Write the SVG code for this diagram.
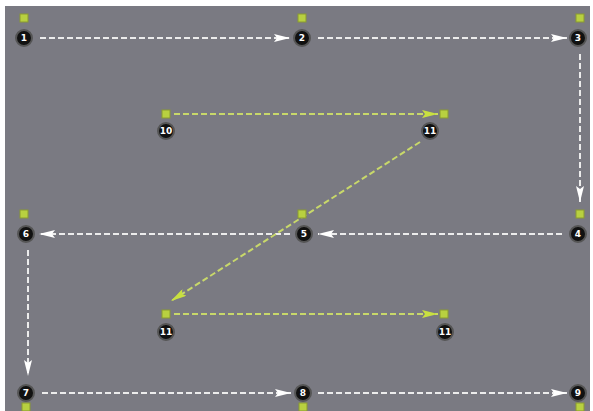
<svg xmlns="http://www.w3.org/2000/svg" width="593" height="411" viewBox="0 0 593 411">
<style>
.w{stroke:#ececec;stroke-width:2;stroke-dasharray:6 3;fill:none}
.y{stroke:#c8d86a;stroke-width:2;stroke-dasharray:6 3;fill:none}
.sq{fill:#b8d040;stroke:#8a9a30;stroke-width:1}
.n circle{fill:#111;stroke:#555;stroke-width:2}
.n text{fill:#fff;font-family:"DejaVu Sans",sans-serif;font-weight:bold;font-size:9px;text-anchor:middle}
</style>
<defs>
<marker id="aw" viewBox="0 0 16 8" refX="16" refY="4" markerWidth="8" markerHeight="4" orient="auto" markerUnits="strokeWidth"><path d="M0,0 L16,4 L0,8 L3,4 z" fill="#ffffff"/></marker>
<marker id="ay" viewBox="0 0 16 8" refX="16" refY="4" markerWidth="8" markerHeight="4" orient="auto" markerUnits="strokeWidth"><path d="M0,0 L16,4 L0,8 L3,4 z" fill="#c8e040"/></marker>
</defs>
<rect width="593" height="411" fill="#ffffff"/>
<rect x="5" y="6" width="585" height="405" fill="#7a7a82"/>
<g id="connectors">
<line class="w" x1="40" y1="38" x2="290" y2="38" marker-end="url(#aw)"/>
<line class="w" x1="318" y1="38" x2="567" y2="38" marker-end="url(#aw)"/>
<line class="w" x1="580" y1="54" x2="580" y2="202" marker-end="url(#aw)"/>
<line class="w" x1="562" y1="234" x2="318" y2="234" marker-end="url(#aw)"/>
<line class="w" x1="290" y1="234" x2="39" y2="234" marker-end="url(#aw)"/>
<line class="w" x1="28" y1="250" x2="28" y2="376" marker-end="url(#aw)"/>
<line class="w" x1="42" y1="393" x2="291" y2="393" marker-end="url(#aw)"/>
<line class="w" x1="318" y1="393" x2="567" y2="393" marker-end="url(#aw)"/>
<line class="y" x1="174" y1="114" x2="438" y2="114" marker-end="url(#ay)"/>
<line class="y" x1="420" y1="142" x2="171" y2="301" marker-end="url(#ay)"/>
<line class="y" x1="174" y1="314" x2="438" y2="314" marker-end="url(#ay)"/>
</g>
<g id="n1" class="n"><rect class="sq" x="20" y="14" width="8" height="8"/><circle cx="24" cy="38" r="8"/><text x="24" y="41">1</text></g>
<g id="n2" class="n"><rect class="sq" x="298" y="14" width="8" height="8"/><circle cx="302" cy="38" r="8"/><text x="302" y="41">2</text></g>
<g id="n3" class="n"><rect class="sq" x="576" y="14" width="8" height="8"/><circle cx="578" cy="38" r="8"/><text x="578" y="41">3</text></g>
<g id="n10" class="n"><rect class="sq" x="162" y="110" width="8" height="8"/><circle cx="166" cy="131" r="8"/><text x="166" y="134">10</text></g>
<g id="n11a" class="n"><rect class="sq" x="440" y="110" width="8" height="8"/><circle cx="430" cy="131" r="8"/><text x="430" y="134">11</text></g>
<g id="n6" class="n"><rect class="sq" x="20" y="210" width="8" height="8"/><circle cx="26" cy="234" r="8"/><text x="26" y="237">6</text></g>
<g id="n5" class="n"><rect class="sq" x="298" y="210" width="8" height="8"/><circle cx="304" cy="234" r="8"/><text x="304" y="237">5</text></g>
<g id="n4" class="n"><rect class="sq" x="576" y="210" width="8" height="8"/><circle cx="578" cy="234" r="8"/><text x="578" y="237">4</text></g>
<g id="n11b" class="n"><rect class="sq" x="162" y="310" width="8" height="8"/><circle cx="166" cy="332" r="8"/><text x="166" y="335">11</text></g>
<g id="n11c" class="n"><rect class="sq" x="440" y="310" width="8" height="8"/><circle cx="445" cy="332" r="8"/><text x="445" y="335">11</text></g>
<g id="n7" class="n"><rect class="sq" x="22" y="403" width="8" height="8"/><circle cx="26" cy="393" r="8"/><text x="26" y="396">7</text></g>
<g id="n8" class="n"><rect class="sq" x="299" y="403" width="8" height="8"/><circle cx="303" cy="393" r="8"/><text x="303" y="396">8</text></g>
<g id="n9" class="n"><rect class="sq" x="576" y="403" width="8" height="8"/><circle cx="578" cy="393" r="8"/><text x="578" y="396">9</text></g>
</svg>
